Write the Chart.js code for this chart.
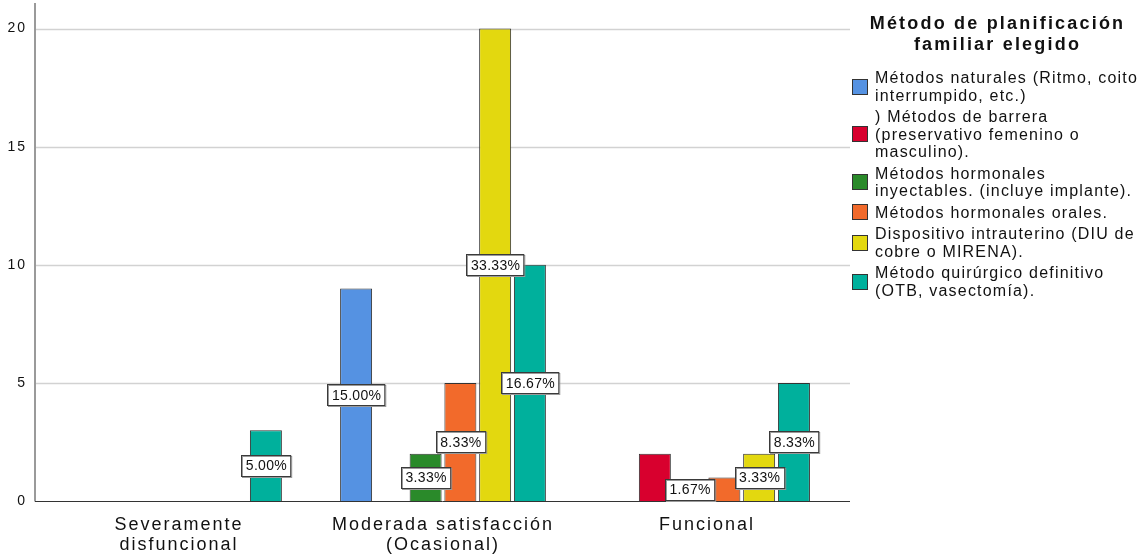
<!DOCTYPE html>
<html lang="es">
<head>
<meta charset="utf-8">
<script src="https://cdn.jsdelivr.net/npm/chart.js@4.4.1/dist/chart.umd.min.js"></script>
<style>
  html, body { margin: 0; padding: 0; background: #fff; }
  #wrap { position: relative; width: 1145px; height: 556px; overflow: hidden; }
  #chart { position: absolute; left: 0; top: 0; }
  #legend {
    position: absolute; left: 850px; top: 13px; width: 295px;
    font-family: "Liberation Sans", Arial, sans-serif; color: #111;
  }
  #legend .title {
    font-weight: bold; font-size: 18px; line-height: 21px; letter-spacing: 2.2px;
    text-align: center; margin-left: 0; margin-bottom: 14px; white-space: nowrap;
  }
  #legend .item { position: relative; padding-left: 25px; margin-bottom: 4px; }
  #legend .swatch {
    position: absolute; left: 2px; top: 50%; width: 14px; height: 14px; margin-top: -8px;
    border: 1px solid #333;
  }
  #legend .text { font-size: 16px; line-height: 17.5px; letter-spacing: 1.2px; white-space: pre; }
</style>
</head>
<body>
<div id="wrap">
  <canvas id="chart" width="1145" height="556"></canvas>
  <div id="legend"></div>
</div>
<script>
// Satisfacción familiar (categorías del eje X)
const categories = [
  ['Severamente', 'disfuncional'],
  ['Moderada satisfacción', '(Ocasional)'],
  'Funcional'
];

// Recuento por método de planificación familiar elegido
const naturales   = [null, 9, null];
const barrera     = [null, null, 2];
const inyectables = [null, 2, null];
const orales      = [null, 5, 1];
const diu         = [null, 20, 2];
const quirurgico  = [3, 10, 5];

const seriesNames = [
  'Métodos naturales (Ritmo, coito\ninterrumpido, etc.)',
  ') Métodos de barrera\n(preservativo femenino o\nmasculino).',
  'Métodos hormonales\ninyectables. (incluye implante).',
  'Métodos hormonales orales.',
  'Dispositivo intrauterino (DIU de\ncobre o MIRENA).',
  'Método quirúrgico definitivo\n(OTB, vasectomía).'
];
const seriesColors = ['#5592e2', '#d8002e', '#2a8a2a', '#f26a2b', '#e3d80f', '#00b09c'];

const yTicks = [0, 5, 10, 15, 20];
const legendTitle = ['Método de planificación', 'familiar elegido'];
const totalCases = 60;

const seriesValues = [naturales, barrera, inyectables, orales, diu, quirurgico];

// Etiquetas de porcentaje: [serie, categoría] ocultas y desplazadas (en huecos de barra)
const hiddenLabels = ['1,2'];
const labelSlotShift = { '3,2': -1 };

const FONT = '"Liberation Sans", Arial, sans-serif';

const frame = {
  id: 'frame',
  beforeLayout(chart) { chart.ctx.letterSpacing = '2px'; },
  beforeDraw(chart) { chart.ctx.letterSpacing = '2px'; },
  beforeDatasetsDraw(chart) {
    const { ctx, chartArea: a, scales: { y } } = chart;
    const x0 = a.left - 12, x1 = a.right + 11;
    ctx.save();
    ctx.strokeStyle = '#d2d2d2';
    ctx.lineWidth = 1.5;
    yTicks.forEach(v => {
      if (v === 0) return;
      const py = Math.round(y.getPixelForValue(v)) + 0.5;
      ctx.beginPath(); ctx.moveTo(x0, py); ctx.lineTo(x1, py); ctx.stroke();
    });
    ctx.restore();
  },
  afterDatasetsDraw(chart) {
    const { ctx, chartArea: a, scales: { y } } = chart;
    const x0 = a.left - 12, x1 = a.right + 11;
    const base = Math.round(y.getPixelForValue(0)) + 0.5;
    ctx.save();
    ctx.strokeStyle = '#9a9a9a';
    ctx.lineWidth = 2;
    ctx.beginPath(); ctx.moveTo(x0, a.top - 2); ctx.lineTo(x0, base); ctx.stroke();
    ctx.strokeStyle = '#333';
    ctx.lineWidth = 1;
    ctx.beginPath(); ctx.moveTo(x0, base); ctx.lineTo(x1, base); ctx.stroke();

    // Etiquetas de porcentaje en el centro de cada barra
    ctx.font = '14px ' + FONT;
    ctx.letterSpacing = '0.3px';
    ctx.textAlign = 'center';
    ctx.textBaseline = 'middle';
    chart.data.datasets.forEach((ds, di) => {
      const meta = chart.getDatasetMeta(di);
      meta.data.forEach((bar, ci) => {
        const v = ds.data[ci];
        if (v == null || hiddenLabels.includes(di + ',' + ci)) return;
        const slot = bar.width / 0.92;
        const cx = bar.x + (labelSlotShift[di + ',' + ci] || 0) * slot;
        const cy = (bar.y + bar.base) / 2;
        const text = (v / totalCases * 100).toFixed(2) + '%';
        const w = ctx.measureText(text).width + 8;
        const h = 21;
        const bx = Math.round(cx - w / 2) + 0.5, by = Math.round(cy - h / 2) + 0.5;
        ctx.fillStyle = '#fff';
        ctx.fillRect(bx, by, w, h);
        ctx.strokeStyle = '#9a9a9a';
        ctx.lineWidth = 1;
        ctx.strokeRect(bx + 1, by + 1, w, h);
        ctx.strokeStyle = '#3a3a3a';
        ctx.strokeRect(bx, by, w, h);
        ctx.fillStyle = '#111';
        ctx.fillText(text, cx + 0.5, cy + 1);
      });
    });
    ctx.restore();
  }
};

const chart = new Chart(document.getElementById('chart'), {
  type: 'bar',
  data: {
    labels: categories,
    datasets: seriesValues.map((vals, i) => ({
      label: seriesNames[i],
      data: vals,
      backgroundColor: seriesColors[i],
      borderColor: '#333',
      borderWidth: 1,
      categoryPercentage: 0.79,
      barPercentage: 0.92
    }))
  },
  options: {
    responsive: false,
    animation: false,
    devicePixelRatio: 1,
    layout: { padding: { left: 0, right: 306, top: 5, bottom: 0 } },
    plugins: { legend: { display: false }, tooltip: { enabled: false } },
    scales: {
      x: {
        grid: { display: false },
        border: { display: false },
        ticks: {
          color: '#111',
          font: { family: FONT, size: 18, lineHeight: 1.12 },
          padding: 6,
          maxRotation: 0,
          autoSkip: false
        },
        afterFit(s) { s.height = 55; }
      },
      y: {
        min: 0,
        max: 21,
        grid: { display: false, drawTicks: false },
        border: { display: false },
        ticks: {
          stepSize: 5,
          includeBounds: false,
          color: '#111',
          font: { family: FONT, size: 14 },
          padding: 20
        },
        afterFit(s) {
          s.width = 47;
          s.paddingTop = 0;
          s.paddingBottom = 0;
        }
      }
    }
  },
  plugins: [frame]
});

// Leyenda con el título del grupo y una caja por serie
const legendEl = document.getElementById('legend');
const titleEl = document.createElement('div');
titleEl.className = 'title';
titleEl.innerHTML = legendTitle.join('<br>');
legendEl.appendChild(titleEl);
chart.data.datasets.forEach(ds => {
  const item = document.createElement('div');
  item.className = 'item';
  const sw = document.createElement('span');
  sw.className = 'swatch';
  sw.style.background = ds.backgroundColor;
  const tx = document.createElement('div');
  tx.className = 'text';
  tx.textContent = ds.label;
  item.appendChild(sw);
  item.appendChild(tx);
  legendEl.appendChild(item);
});
</script>
</body>
</html>
